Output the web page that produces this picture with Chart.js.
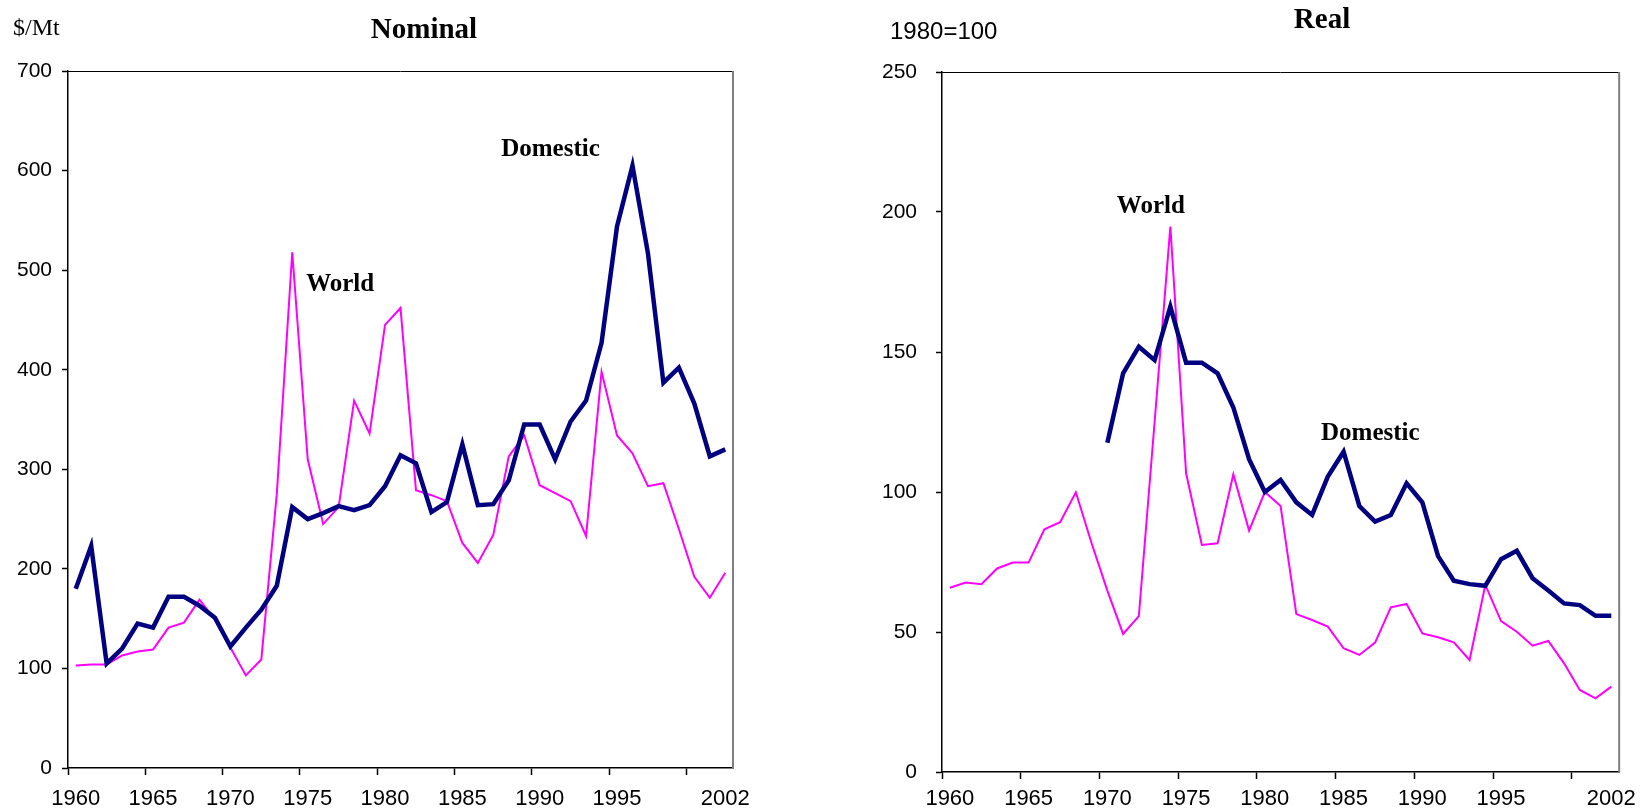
<!DOCTYPE html>
<html>
<head>
<meta charset="utf-8">
<script src="https://cdn.jsdelivr.net/npm/chart.js@4.4.0/dist/chart.umd.min.js"></script>
<style>
  html, body { margin: 0; padding: 0; background: #fff; overflow: hidden; }
  #wrap { position: relative; width: 1643px; height: 811px; }
  .box { position: absolute; top: 0; height: 811px; }
  #left { left: 0; width: 840px; }
  #right { left: 840px; width: 803px; }
</style>
</head>
<body>
<div id="wrap">
  <div class="box" id="left"><canvas id="nominalChart"></canvas></div>
  <div class="box" id="right"><canvas id="realChart"></canvas></div>
</div>
<script>
// categories
const years = [1960, 1961, 1962, 1963, 1964, 1965, 1966, 1967, 1968, 1969,
               1970, 1971, 1972, 1973, 1974, 1975, 1976, 1977, 1978, 1979,
               1980, 1981, 1982, 1983, 1984, 1985, 1986, 1987, 1988, 1989,
               1990, 1991, 1992, 1993, 1994, 1995, 1996, 1997, 1998, 1999,
               2000, 2001, 2002];
// years that get a label on the x axis
const labelYears = [1960, 1965, 1970, 1975, 1980, 1985, 1990, 1995, 2002];

// Nominal, $/Mt
const nominalDomestic = [180, 223, 105, 120, 145, 141, 172, 172, 163, 151,
                         122, 141, 159, 183, 262, 250, 256, 263, 259, 264,
                         283, 314, 306, 257, 267, 325, 264, 265, 289, 345,
                         345, 310, 348, 369, 427, 544, 605, 517, 387, 402,
                         366, 313, 320];
const nominalWorld = [103, 104, 104, 113, 117, 119, 141, 146, 169, 149,
                      121, 93, 109, 275, 518, 310, 245, 262, 369, 336,
                      445, 462, 279, 274, 268, 226, 206, 234, 313, 334,
                      284, 276, 268, 233, 398, 334, 316, 283, 286, 240,
                      192, 171, 196];

// Real, 1980=100
const realDomestic = [null, null, null, null, null, null, null, null, null, null,
                      117.6, 142.4, 151.9, 147.1, 166.2, 146.2, 146.2, 142.4, 130.2, 111.7,
                      100, 104.3, 96.3, 91.8, 105.5, 114.4, 95, 89.4, 91.8, 103.1,
                      96.3, 77.1, 68.3, 67.1, 66.5, 76, 79, 69.2, 64.8, 60.2,
                      59.6, 55.8, 55.8];
const realWorld = [65.8, 67.7, 67.1, 72.7, 74.8, 74.8, 86.7, 89.2, 99.9, 81.7,
                   64.8, 49.3, 55.7, 125, 194.8, 106.7, 81.1, 81.7, 106.3, 86.2,
                   100, 95, 56.4, 54.3, 51.9, 44.2, 41.8, 46.2, 58.8, 60,
                   49.5, 48.1, 46.3, 40, 66.8, 53.9, 50.1, 45.1, 46.8, 38.8,
                   29.3, 26.3, 30.5];

const NAVY = '#000080';
const MAGENTA = '#ff00ff';
const sans = 'Liberation Sans, Arial, sans-serif';
const serif = 'Liberation Serif, Times New Roman, serif';

// draws the plot frame, panel title, unit text and series names
const panelText = {
  id: 'panelText',
  afterDraw(chart, args, o) {
    const { ctx, chartArea: a, scales: { x, y } } = chart;
    ctx.save();
    ctx.strokeStyle = '#000';
    ctx.lineWidth = 1;
    ctx.beginPath();
    ctx.moveTo(a.left, a.top + 0.5);
    ctx.lineTo(a.right, a.top + 0.5);
    ctx.stroke();
    ctx.strokeStyle = '#808080';
    ctx.lineWidth = 2;
    ctx.beginPath();
    ctx.moveTo(a.right, a.top);
    ctx.lineTo(a.right, a.bottom);
    ctx.stroke();

    ctx.fillStyle = '#000';
    ctx.textBaseline = 'middle';
    ctx.textAlign = 'center';
    ctx.font = 'bold 29px ' + serif;
    ctx.fillText(o.title, o.titleX, o.titleY);

    ctx.textAlign = 'left';
    ctx.font = o.unitFont;
    ctx.fillText(o.unit, o.unitX, o.unitY);

    ctx.textAlign = 'center';
    ctx.font = 'bold 25px ' + serif;
    o.notes.forEach(n => {
      ctx.fillText(n.text, x.getPixelForValue(n.year - years[0]), y.getPixelForValue(n.value));
    });
    ctx.restore();
  }
};

function makePanel(id, c) {
  return new Chart(document.getElementById(id), {
    type: 'line',
    data: {
      labels: years.map(String),
      datasets: [
        { label: 'Domestic', data: c.domestic, borderColor: NAVY, borderWidth: 4.5,
          pointRadius: 0, tension: 0, fill: false, spanGaps: false },
        { label: 'World', data: c.world, borderColor: MAGENTA, borderWidth: 2,
          pointRadius: 0, tension: 0, fill: false }
      ]
    },
    options: {
      responsive: true,
      maintainAspectRatio: false,
      animation: false,
      layout: { padding: { top: c.top, right: c.right, left: 0, bottom: 0 } },
      plugins: {
        legend: { display: false },
        tooltip: { enabled: false },
        panelText: c.text
      },
      scales: {
        x: {
          offset: true,
          grid: {
            offset: true,
            drawOnChartArea: false,
            tickLength: 7,
            tickWidth: 1.5,
            tickColor: ctx => (ctx.index % 5 === 0 ? '#000' : 'rgba(0,0,0,0)')
          },
          border: { color: '#000', width: 1.5 },
          ticks: {
            autoSkip: false,
            maxRotation: 0,
            padding: c.xPad,
            color: '#000',
            font: { family: sans, size: 22 },
            callback: (v, i) => (labelYears.includes(years[i]) ? String(years[i]) : '')
          },
          afterFit: s => { s.height = c.xHeight; }
        },
        y: {
          min: 0,
          max: c.max,
          grid: { drawOnChartArea: false, tickLength: 6, tickWidth: 1.5, tickColor: '#000' },
          border: { color: '#000', width: 1.5 },
          ticks: {
            stepSize: c.step,
            padding: c.yPad,
            color: '#000',
            font: { family: sans, size: 21 }
          },
          afterFit: s => { s.width = c.yWidth; }
        }
      }
    },
    plugins: [panelText]
  });
}

makePanel('nominalChart', {
  domestic: nominalDomestic, world: nominalWorld,
  max: 700, step: 100,
  top: 71, right: 107, yWidth: 68, xHeight: 43, xPad: 11, yPad: 10,
  text: {
    title: 'Nominal', titleX: 424, titleY: 31,
    unit: '$/Mt', unitX: 13, unitY: 29, unitFont: '24px ' + serif,
    notes: [
      { text: 'World', year: 1977.1, value: 486 },
      { text: 'Domestic', year: 1990.7, value: 621 }
    ]
  }
});

makePanel('realChart', {
  domestic: realDomestic, world: realWorld,
  max: 250, step: 50,
  top: 72, right: 20, yWidth: 102, xHeight: 39, xPad: 7, yPad: 19,
  text: {
    title: 'Real', titleX: 482, titleY: 21,
    unit: '1980=100', unitX: 50, unitY: 32, unitFont: '24px ' + sans,
    notes: [
      { text: 'World', year: 1972.76, value: 202 },
      { text: 'Domestic', year: 1986.7, value: 121 }
    ]
  }
});
</script>
</body>
</html>
